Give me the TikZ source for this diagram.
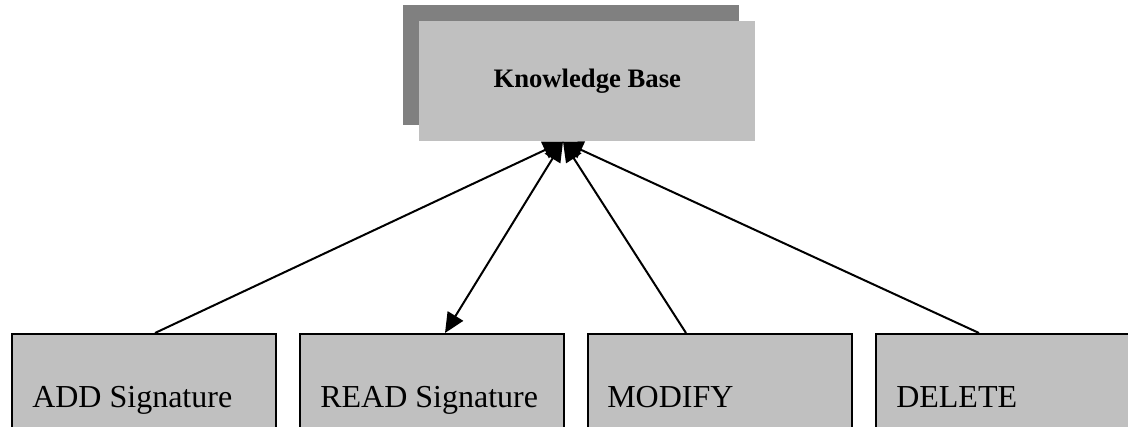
\documentclass[tikz,border=0pt]{standalone}
\usepackage{fontspec}
\setmainfont{Liberation Serif}
\usetikzlibrary{arrows.meta,calc}
\definecolor{boxgray}{HTML}{C0C0C0}
\definecolor{shadowgray}{HTML}{808080}
\begin{document}
\begin{tikzpicture}[x=0.75pt,y=-0.75pt,
  kbpanel/.style={rectangle,anchor=north west,inner sep=0pt,
    minimum width=252pt,minimum height=90pt},
  panel/.style={rectangle,draw=black,line width=1.6pt,fill=boxgray,
    anchor=north west,inner sep=0pt,minimum width=198pt,minimum height=90pt},
  panellabel/.style={anchor=base west,inner sep=0pt,
    font=\fontsize{24}{28}\selectfont},
  tipshape/.tip={Triangle[length=15pt,width=13.5pt]},
  link/.style={line width=1.5pt,-tipshape},
  twoway/.style={line width=1.5pt,tipshape-tipshape},
]
\useasboundingbox (0,0) rectangle (1128,427);
\clip (0,0) rectangle (1128,427);

% knowledge base with its offset shadow
\node[kbpanel,fill=shadowgray] (kbshadow) at (403,5) {};
\node[kbpanel,fill=boxgray] (kb) at (419,21) {};
\node[font=\bfseries\fontsize{20}{24}\selectfont] (kbtext) at (kb.center) {Knowledge Base};

% operation panels along the bottom
\node[panel] (add)    at (11,333)  {};
\node[panel] (read)   at (299,333) {};
\node[panel] (modify) at (587,333) {};
\node[panel] (delete) at (875,333) {};

\node[panellabel] (addlabel)    at (32,408)  {ADD Signature};
\node[panellabel] (readlabel)   at (320,408) {READ Signature};
\node[panellabel] (modifylabel) at (607,408) {MODIFY};
\node[panellabel] (deletelabel) at (896,408) {DELETE};

% connection points
\coordinate (hub)       at ($(kb.south west)+(144,0)$);
\coordinate (addtop)    at ($(add.north west)+(144,0)$);
\coordinate (readtop)   at ($(read.north west)+(146,0)$);
\coordinate (modifytop) at ($(modify.north west)+(99,0)$);
\coordinate (deletetop) at ($(delete.north west)+(104,0)$);

% connectors
\draw[link]   (addtop)    -- (hub);
\draw[twoway] (readtop)   -- (hub);
\draw[link]   (modifytop) -- (hub);
\draw[link]   (deletetop) -- (hub);
\end{tikzpicture}
\end{document}
